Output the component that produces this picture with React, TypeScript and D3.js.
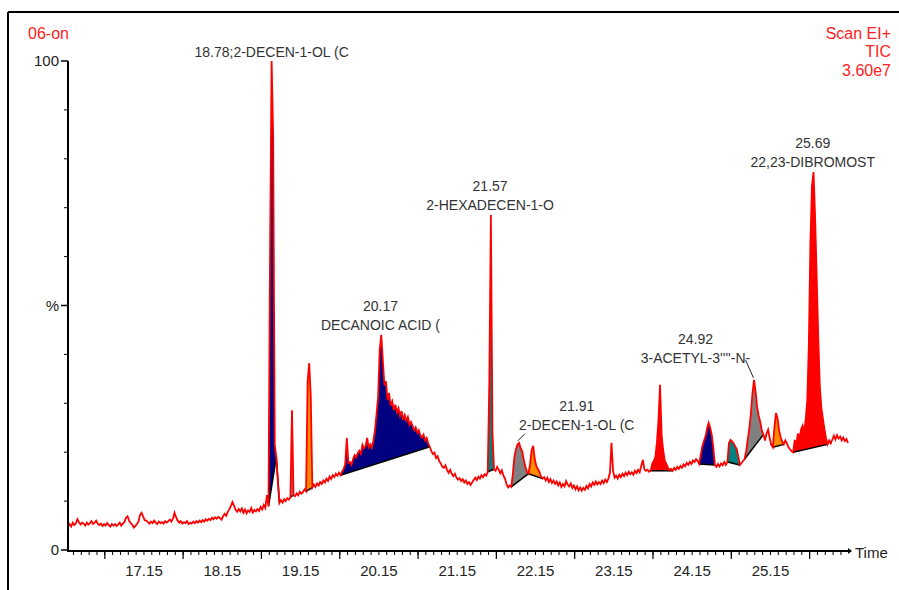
import React from 'react';
import * as d3 from 'd3';

// TIC trace, sampled every 0.02 min starting at 16.18 min (% of full scale)
const startTime = 16.18;
const timeStep = 0.02;
const intensity = [
  4.9, 5.3, 4.8, 5.6, 5.1, 5.4, 6.3, 5.7, 5.2, 5.6,
  5.4, 5.0, 5.6, 5.2, 5.5, 5.9, 5.3, 5.6, 6.0, 5.4,
  5.1, 5.4, 4.9, 5.3, 5.0, 5.5, 5.1, 4.8, 5.3, 5.0,
  5.3, 4.9, 5.2, 5.6, 5.0, 5.4, 5.7, 6.6, 6.9, 6.0,
  5.5, 5.2, 4.6, 4.9, 5.3, 5.8, 7.2, 7.6, 6.8, 6.1,
  6.0, 5.7, 5.4, 5.8, 5.5, 6.0, 5.6, 5.3, 5.8, 5.5,
  5.7, 5.4, 5.9, 5.6, 5.9, 6.2, 5.8, 6.4, 7.6, 6.7,
  6.0, 5.6, 5.9, 5.4, 5.7, 5.5, 5.9, 5.3, 5.6, 5.4,
  5.8, 5.5, 5.9, 5.6, 6.0, 5.7, 6.1, 5.8, 6.3, 6.0,
  6.4, 6.1, 6.6, 6.3, 6.7, 6.4, 6.8, 6.5, 6.2, 6.9,
  7.4, 7.0, 7.8, 8.3, 9.0, 9.8, 9.1, 8.2, 7.8, 8.4,
  7.9, 8.5, 7.6, 8.3, 7.5, 8.1, 7.8, 8.6, 7.7, 8.2,
  7.9, 8.4, 8.0, 8.8, 8.3, 9.2, 8.6, 11.2, 8.9, 60.5,
  100, 84.5, 21.5, 19.0, 14.0, 9.6, 10.2, 9.7, 10.4, 10.0,
  10.6, 10.3, 10.8, 28.6, 11.2, 11.0, 11.6, 11.2, 11.9, 11.5,
  11.8, 12.4, 12.0, 34.5, 38.2, 31.5, 12.8, 13.4, 12.9, 13.6,
  13.2, 13.9, 13.5, 14.2, 13.8, 14.6, 14.1, 15.0, 14.5, 15.3,
  14.9, 15.6, 15.2, 15.8, 15.3, 16.0, 16.6, 17.5, 22.9, 17.8,
  18.0, 17.4, 18.6, 19.4, 18.9, 19.8, 20.3, 19.7, 21.5, 20.8,
  21.2, 22.9, 21.0, 21.6, 20.9, 22.4, 24.5, 27.8, 31.3, 40.9,
  44.0, 38.9, 33.7, 34.5, 30.7, 32.1, 29.5, 30.4, 28.6, 29.7,
  28.2, 29.0, 27.4, 28.4, 26.6, 27.6, 26.4, 27.2, 25.6, 26.2,
  25.4, 24.5, 25.1, 24.0, 24.5, 23.4, 23.0, 23.6, 22.4, 22.9,
  21.8, 21.1, 20.2, 19.6, 19.9, 18.8, 19.2, 18.2, 17.7, 17.0,
  16.8, 17.3, 16.4, 15.8, 16.4, 15.6, 15.1, 15.6, 14.8, 14.4,
  14.7, 14.1, 14.5, 13.8, 14.2, 13.5, 13.9, 13.3, 13.8, 14.3,
  14.8, 14.3, 15.0, 14.6, 15.3, 14.9, 15.5, 15.2, 16.0, 34.5,
  68.5, 24.0, 16.5, 16.2, 17.0, 16.4, 15.7, 16.3, 15.2, 14.6,
  13.4, 12.8, 13.2, 12.9, 15.5, 19.0, 20.6, 21.6, 21.9, 20.8,
  20.2, 18.4, 17.0, 16.0, 15.6, 17.5, 20.4, 21.3, 18.6, 17.2,
  16.6, 16.0, 15.0, 14.6, 14.9, 14.2, 14.8, 13.9, 14.5, 13.7,
  14.2, 13.5, 14.0, 13.2, 13.8, 12.9, 13.5, 13.0, 14.1, 13.4,
  13.0, 13.6, 12.7, 13.2, 12.4, 13.0, 12.2, 12.8, 12.1, 12.7,
  12.3, 13.1, 12.6, 13.5, 13.0, 13.8, 13.3, 14.0, 13.4, 13.9,
  13.5, 14.2, 13.7, 14.4, 13.9, 14.6, 15.8, 21.9, 16.2, 14.8,
  15.2, 14.6, 15.4, 14.9, 15.6, 15.1, 15.8, 15.3, 16.0, 15.5,
  15.9, 15.4, 16.2, 15.7, 16.4, 15.9, 17.2, 18.4, 16.5, 16.2,
  16.4, 16.0, 16.2, 17.6, 18.2, 19.0, 22.0, 26.5, 33.8, 23.5,
  20.4, 18.2, 17.6, 16.9, 16.3, 16.6, 16.2, 16.8, 16.4, 17.0,
  16.6, 17.2, 16.8, 17.5, 17.1, 17.8, 17.4, 18.0, 17.6, 18.3,
  18.0, 18.6, 18.2, 17.6, 19.5, 21.2, 22.3, 23.2, 24.8, 26.0,
  25.0, 23.6, 21.0, 17.4, 17.0, 17.6, 17.1, 17.7, 17.3, 18.0,
  17.4, 18.0, 21.9, 22.5, 22.2, 21.8, 21.2, 20.6, 19.0, 17.4,
  17.8, 18.2, 18.6, 20.2, 22.6, 24.8, 28.0, 32.0, 34.8, 32.4,
  29.2, 27.4, 26.2, 24.4, 23.6, 22.4, 23.8, 24.6, 22.9, 21.5,
  21.0, 25.0, 28.0, 27.0, 24.5, 23.0, 22.2, 21.6, 22.4, 21.8,
  21.0, 20.6, 20.2, 20.0, 22.5, 21.6, 23.8, 22.8, 24.6, 25.4,
  24.0, 26.8, 30.5, 42.0, 63.0, 74.5, 77.3, 68.0, 56.0, 43.5,
  33.5, 29.0, 26.8, 24.6, 22.8, 21.6, 22.4, 21.8, 22.6, 23.4,
  22.6, 23.5, 22.8, 23.2, 22.4, 23.0, 22.3, 22.7, 21.9,
];

// integrated peaks: [start, end] in minutes
const integrations = [
  [18.74, 18.84], [18.84, 18.88], [19.02, 19.06], [19.22, 19.30],
  [19.66, 20.80], [21.54, 21.62], [21.84, 22.06], [22.06, 22.24],
  [23.62, 23.90], [24.24, 24.44], [24.60, 24.76], [24.82, 25.06],
  [25.18, 25.32], [25.44, 25.88],
];
const integrationColors = [
  '#000080', '#008080', '#808080', '#ff8c00',
  '#000080', '#008080', '#808080', '#ff8c00',
  '#ff0000', '#000080', '#008080', '#808080',
  '#ff8c00', '#ff0000',
];

const peakTimes = [18.78, 20.17, 21.57, 21.91, 24.92, 25.69];
const peakLabels = [
  ['18.78;2-DECEN-1-OL (C'],
  ['20.17', 'DECANOIC ACID ('],
  ['21.57', '2-HEXADECEN-1-O'],
  ['21.91', '2-DECEN-1-OL (C'],
  ['24.92', "3-ACETYL-3''''-N-"],
  ['25.69', '22,23-DIBROMOST'],
];
// label offsets from the apex: [dx, dy]
const labelOffsets = [[0, 0], [0, 0], [0, 0], [60, -8], [-57, -12], [0, 0]];

const timeLabels = [17.15, 18.15, 19.15, 20.15, 21.15, 22.15, 23.15, 24.15, 25.15];
const yTickValues = [0, 50, 100];
const yTickLabels = ['0', '%', '100'];

const W = 899;
const H = 590;
const font = '"Liberation Sans", Arial, sans-serif';

const x = d3.scaleLinear().domain([16.18, 26.14]).range([68, 848]);
const y = d3.scaleLinear().domain([0, 100]).range([550, 61]);

const tOf = (i: number) => startTime + i * timeStep;
const idxOf = (t: number) => Math.round((t - startTime) / timeStep);
const points = intensity.map((v, i) => ({ t: tOf(i), v }));

const App: React.FC = () => {
  const line = d3.line<{ t: number; v: number }>()
    .x(d => x(d.t))
    .y(d => y(d.v));

  const fills = integrations.map(([s, e], k) => {
    const i0 = idxOf(s);
    const i1 = idxOf(e);
    const seg = points.slice(i0, i1 + 1);
    const v0 = intensity[i0];
    const v1 = intensity[i1];
    const chord = (t: number) => v0 + (v1 - v0) * (t - tOf(i0)) / (tOf(i1) - tOf(i0));
    const area = d3.area<{ t: number; v: number }>()
      .x(d => x(d.t))
      .y0(d => y(chord(d.t)))
      .y1(d => y(d.v));
    return {
      d: area(seg) || '',
      color: integrationColors[k],
      x0: x(tOf(i0)), y0: y(v0), x1: x(tOf(i1)), y1: y(v1),
    };
  });

  const minorTicks = d3.range(16.25, 26.1, 0.1);
  const majorTicks = d3.range(16.65, 26.1, 1);
  const yMinor = d3.range(10, 100, 10);

  return (
    <svg width={W} height={H} style={{ position: 'absolute', left: 0, top: 0, background: '#fff' }}>
      <rect x={0} y={0} width={W} height={H} fill="#fff" />
      {/* frame */}
      <line x1={8} y1={12} x2={W} y2={12} stroke="#000" strokeWidth={2} />
      <line x1={8} y1={12} x2={8} y2={H} stroke="#000" strokeWidth={2} />

      {/* header */}
      <text x={28} y={39} fill="#ff2020" fontFamily={font} fontSize={16}>06-on</text>
      <text x={891} y={39} fill="#ff2020" fontFamily={font} fontSize={16} textAnchor="end">Scan EI+</text>
      <text x={891} y={57} fill="#ff2020" fontFamily={font} fontSize={16} textAnchor="end">TIC</text>
      <text x={891} y={76} fill="#ff2020" fontFamily={font} fontSize={16} textAnchor="end">3.60e7</text>

      {/* integrated areas */}
      {fills.map((f, k) => (
        <path key={`f${k}`} d={f.d} fill={f.color} stroke="none" />
      ))}
      {fills.map((f, k) => (
        <line key={`b${k}`} x1={f.x0} y1={f.y0} x2={f.x1} y2={f.y1} stroke="#000" strokeWidth={1.5} />
      ))}

      {/* trace */}
      <path d={line(points) || ''} fill="none" stroke="#ff0000" strokeWidth={1.8} strokeLinejoin="miter" />

      {/* peak annotations */}
      {peakTimes.map((pt, k) => {
        const win = points.filter(p => Math.abs(p.t - pt) <= 0.05);
        const top = y(d3.max(win, p => p.v) || 0);
        const px = x(pt);
        const [dx, dy] = labelOffsets[k];
        const lines = peakLabels[k];
        const base = top - 4 + dy;
        return (
          <g key={`a${k}`}>
            {lines.map((s, j) => (
              <text key={j} x={px + dx} y={base - (lines.length - 1 - j) * 19 - (lines.length > 1 ? 1 : 0)}
                textAnchor="middle" fontFamily={font} fontSize={14} fill="#333">{s}</text>
            ))}
            {dx !== 0 && (
              <line x1={px + (dx > 0 ? 8 : -7)} y1={top + dy - 3 + (dx > 0 ? 2 : -5)} x2={px + 1} y2={top - 2}
                stroke="#222" strokeWidth={1} />
            )}
          </g>
        );
      })}

      {/* y axis */}
      <line x1={68} y1={y(100)} x2={68} y2={551} stroke="#000" strokeWidth={2} />
      {yMinor.map(v => (
        <line key={`ym${v}`} x1={64} y1={y(v)} x2={68} y2={y(v)} stroke="#000" strokeWidth={1} />
      ))}
      {yTickValues.map((v, i) => (
        <g key={`yt${v}`}>
          <line x1={61} y1={y(v)} x2={68} y2={y(v)} stroke="#000" strokeWidth={1.5} />
          <text x={59} y={y(v) + 5} textAnchor="end" fontFamily={font} fontSize={15} fill="#222">{yTickLabels[i]}</text>
        </g>
      ))}

      {/* x axis */}
      <line x1={67} y1={551} x2={848} y2={551} stroke="#000" strokeWidth={2} />
      <path d="M848,548 L852,551 L848,554 Z" fill="#000" />
      {minorTicks.map(t => (
        <line key={`xm${t.toFixed(2)}`} x1={x(t)} y1={551} x2={x(t)} y2={555} stroke="#000" strokeWidth={1} />
      ))}
      {majorTicks.map(t => (
        <line key={`xM${t.toFixed(2)}`} x1={x(t)} y1={551} x2={x(t)} y2={559} stroke="#000" strokeWidth={1.2} />
      ))}
      {timeLabels.map(t => (
        <text key={`xl${t}`} x={x(t)} y={576} textAnchor="middle" fontFamily={font} fontSize={15} fill="#222">
          {t.toFixed(2)}
        </text>
      ))}
      <text x={855} y={558} fontFamily={font} fontSize={15} fill="#222">Time</text>
    </svg>
  );
};

export default App;
